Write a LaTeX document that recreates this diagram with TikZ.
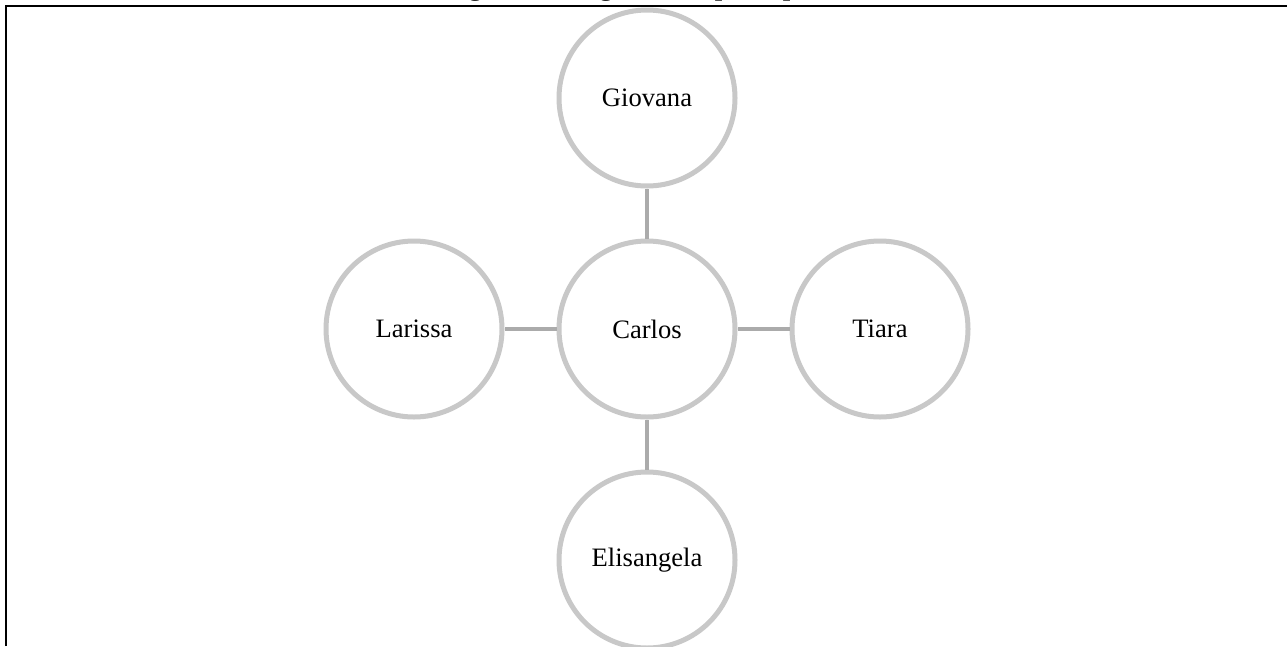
\documentclass[tikz,border=0pt]{standalone}
\usepackage{fontspec}
\setmainfont{Liberation Serif}
\begin{document}
\begin{tikzpicture}[x=1pt,y=-1pt,
  person/.style={circle,draw=circgray,line width=5pt,minimum size=176pt,inner sep=0pt,fill=white,font=\fontsize{26.6}{30}\selectfont},
  link/.style={draw=linkgray,line width=4.5pt}]
\definecolor{circgray}{HTML}{C8C8C8}
\definecolor{linkgray}{HTML}{ABABAB}
\useasboundingbox (0,0) rectangle (1287,646);
\clip (0,0) rectangle (1287,646);
\fill[white] (0,0) rectangle (1287,646);
% caption, cut by the top edge
\node[anchor=base west,inner sep=0pt,font=\bfseries\fontsize{26.6}{30}\selectfont] (title) at (445,-4.3) {Figura 1: Diagrama do principal};
% frame
\coordinate (fa) at (6,646);
\coordinate (fb) at (6,6);
\coordinate (fc) at (1287,6);
\draw[line width=2.2pt,line join=miter] (fa) -- (fb) -- (fc);
% nodes
\node[person] (carlos) at (647,329) {Carlos};
\node[person] (giovana) at (647,98) {Giovana};
\node[person] (larissa) at (414,329) {Larissa};
\node[person] (tiara) at (880,329) {Tiara};
\node[person] (elis) at (647,560) {Elisangela};
% connectors
\draw[link] (carlos.north) -- (giovana.south);
\draw[link] (carlos.west) -- (larissa.east);
\draw[link] (carlos.east) -- (tiara.west);
\draw[link] (carlos.south) -- (elis.north);
\end{tikzpicture}
\end{document}
